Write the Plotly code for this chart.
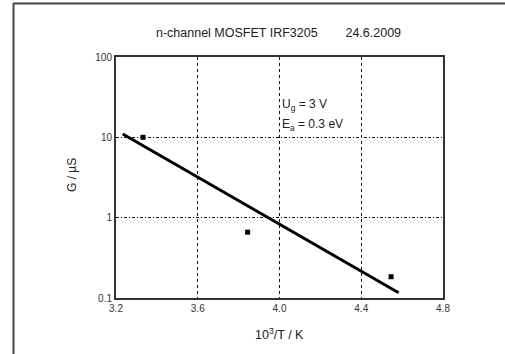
import plotly.graph_objects as go

# data
meas_x = [3.332, 3.844, 4.546]
meas_g = [10.0, 0.66, 0.184]
fit_x = [3.233, 4.583]
fit_g = [11.0, 0.116]
x_ticks = [3.2, 3.6, 4.0, 4.4, 4.8]
x_tick_labels = ["3.2", "3.6", "4.0", "4.4", "4.8"]
y_ticks = [0.1, 1, 10, 100]
y_tick_labels = ["0.1", "1", "10", "100"]

W, H = 505, 354
L, R, T, B = 116, 443, 57, 298

fig = go.Figure()
fig.add_trace(go.Scatter(x=fit_x, y=fit_g, mode="lines",
                         line=dict(color="black", width=3), showlegend=False))
fig.add_trace(go.Scatter(x=meas_x, y=meas_g, mode="markers",
                         marker=dict(symbol="square", size=5, color="black"),
                         showlegend=False))

font = "Liberation Sans, Arial, sans-serif"

def px_x(p):
    return (p - L) / (R - L)

def px_y(p):
    return (B - p) / (B - T)

def note(text, x, y, size, xanchor="center", angle=0):
    return dict(text=text, xref="paper", yref="paper", x=px_x(x), y=px_y(y),
                xanchor=xanchor, yanchor="middle", showarrow=False, textangle=angle,
                font=dict(size=size, family=font, color="#222"))

fig.update_layout(
    width=W, height=H,
    margin=dict(l=L, r=W - R, t=T, b=H - B),
    paper_bgcolor="white", plot_bgcolor="white",
    font=dict(family=font, color="#222"),
    xaxis=dict(range=[3.2, 4.8], tickvals=x_ticks, ticktext=x_tick_labels,
               showgrid=True, gridcolor="#111", griddash="dot", gridwidth=1,
               showline=True, linecolor="#333", linewidth=2, mirror=True,
               ticks="", tickfont=dict(size=10, family=font, color="#333"),
               zeroline=False),
    yaxis=dict(type="log", range=[-1, 2], tickvals=y_ticks, ticktext=y_tick_labels,
               showgrid=True, gridcolor="#111", griddash="3px,2px,1px,2px", gridwidth=1,
               showline=True, linecolor="#333", linewidth=2, mirror=True,
               ticks="", tickfont=dict(size=10, family=font, color="#333"),
               zeroline=False),
    shapes=[
        dict(type="line", xref="paper", yref="paper",
             x0=px_x(13), x1=px_x(505), y0=px_y(3.5), y1=px_y(3.5),
             line=dict(color="#444", width=2)),
        dict(type="line", xref="paper", yref="paper",
             x0=px_x(13.5), x1=px_x(13.5), y0=px_y(3), y1=px_y(354),
             line=dict(color="#444", width=2)),
    ],
    annotations=[
        note("n-channel MOSFET IRF3205&nbsp;&nbsp;&nbsp;&nbsp;&nbsp;&nbsp;&nbsp;&nbsp;24.6.2009",
             278, 33, 12.5),
        note("U<sub>g</sub> = 3 V", 280, 105, 12, xanchor="left"),
        note("E<sub>a</sub> = 0.3 eV", 280, 125, 12, xanchor="left"),
        note("G / µS", 72, 175, 12, angle=-90),
        note("10<sup>3</sup>/T / K", 279, 334, 12.5),
    ],
)

fig.write_html("out.html")
